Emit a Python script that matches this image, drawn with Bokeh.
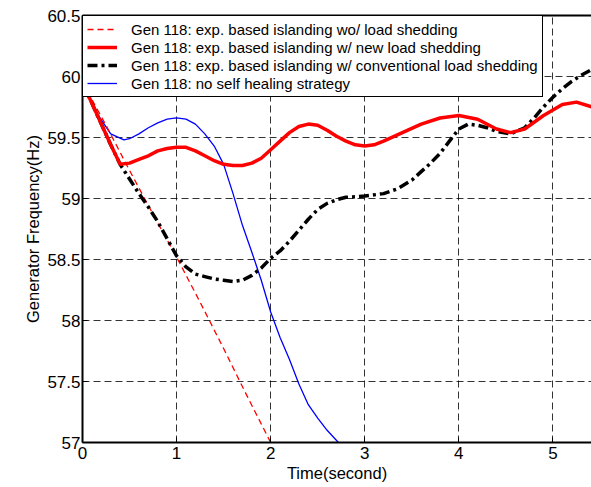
from bokeh.plotting import figure
from bokeh.models import (Range1d, LinearAxis, FixedTicker, Legend, LegendItem,
                          CustomJSTickFormatter)
from bokeh.embed import file_html
from bokeh.resources import INLINE

# ---- data ----
t_wo = [0.0, 0.25, 0.5, 0.75, 1.0, 1.25, 1.5, 1.75, 2.0]
f_wo = [59.95, 59.60, 59.23, 58.87, 58.52, 58.15, 57.77, 57.38, 57.0]

t_new = [0.0, 0.1, 0.2, 0.3, 0.4, 0.5, 0.6, 0.7, 0.8, 0.9, 1.0, 1.1, 1.2, 1.3,
         1.4, 1.5, 1.6, 1.7, 1.8, 1.9, 2.0, 2.1, 2.2, 2.3, 2.4, 2.5, 2.6, 2.7,
         2.8, 2.9, 3.0, 3.1, 3.2, 3.4, 3.6, 3.8, 4.0, 4.2, 4.4, 4.55, 4.7, 4.9,
         5.1, 5.25, 5.42]
f_new = [59.95, 59.78, 59.61, 59.44, 59.28, 59.29, 59.32, 59.35, 59.39, 59.41,
         59.42, 59.42, 59.39, 59.35, 59.31, 59.28, 59.27, 59.27, 59.29, 59.33,
         59.40, 59.47, 59.54, 59.59, 59.61, 59.60, 59.56, 59.51, 59.47, 59.44,
         59.43, 59.44, 59.47, 59.54, 59.61, 59.66, 59.68, 59.65, 59.57, 59.54,
         59.57, 59.68, 59.77, 59.79, 59.75]

t_conv = [0.0, 0.1, 0.2, 0.3, 0.4, 0.5, 0.6, 0.7, 0.8, 0.9, 1.0, 1.1, 1.2, 1.3,
          1.4, 1.5, 1.6, 1.7, 1.8, 1.9, 2.0, 2.1, 2.2, 2.3, 2.4, 2.5, 2.6, 2.7,
          2.8, 3.0, 3.2, 3.35, 3.5, 3.6, 3.7, 3.8, 3.9, 4.0, 4.1, 4.2, 4.3, 4.4,
          4.55, 4.7, 4.8, 4.9, 5.0, 5.1, 5.2, 5.3, 5.42]
f_conv = [59.95, 59.78, 59.61, 59.44, 59.28, 59.16, 59.04, 58.93, 58.81, 58.67,
          58.53, 58.44, 58.38, 58.36, 58.34, 58.33, 58.32, 58.33, 58.37, 58.43,
          58.51, 58.57, 58.65, 58.74, 58.83, 58.91, 58.96, 58.99, 59.01, 59.02,
          59.04, 59.08, 59.15, 59.22, 59.29, 59.37, 59.47, 59.57, 59.61, 59.60,
          59.58, 59.55, 59.53, 59.58, 59.66, 59.75, 59.83, 59.90, 59.96, 60.01,
          60.06]

t_none = [0.0, 0.1, 0.17, 0.3, 0.44, 0.5, 0.6, 0.7, 0.8, 0.9, 1.0, 1.1, 1.2,
          1.3, 1.4, 1.5, 1.6, 1.7, 1.8, 1.9, 2.0, 2.1, 2.2, 2.3, 2.4, 2.5, 2.6,
          2.72]
f_none = [59.95, 59.78, 59.68, 59.53, 59.48, 59.49, 59.53, 59.58, 59.62, 59.65,
          59.66, 59.65, 59.61, 59.53, 59.43, 59.28, 59.04, 58.78, 58.56, 58.33,
          58.07, 57.86, 57.68, 57.48, 57.31, 57.20, 57.10, 57.0]

x_ticks = [0, 1, 2, 3, 4, 5]
y_ticks = [57, 57.5, 58, 58.5, 59, 59.5, 60, 60.5]

labels = ["Gen 118: exp. based islanding wo/ load shedding",
          "Gen 118: exp. based islanding w/ new load shedding",
          "Gen 118: exp. based islanding w/ conventional load shedding",
          "Gen 118: no self healing strategy"]

FONT = "Liberation Sans"

p = figure(width=591, height=487, x_range=Range1d(0, 5.41),
           y_range=Range1d(57, 60.5), output_backend="svg",
           toolbar_location=None, min_border_left=82, min_border_top=15,
           min_border_right=0, min_border_bottom=45,
           x_axis_label="Time(second)",
           y_axis_label="Generator Frequency(Hz)")
p.outline_line_color = None
p.background_fill_color = "white"

for ax in (p.xaxis[0], p.yaxis[0]):
    ax.axis_line_width = 2
    ax.axis_line_color = "black"
    ax.major_tick_in = 5
    ax.major_tick_out = 0
    ax.major_tick_line_color = "black"
    ax.minor_tick_line_color = None
    ax.major_label_text_font = FONT
    ax.major_label_text_font_size = "17px"
    ax.major_label_text_color = "black"
    ax.axis_label_text_font = FONT
    ax.axis_label_text_font_size = "16.5px"
    ax.axis_label_text_font_style = "normal"
    ax.axis_label_text_color = "black"
    ax.axis_label_standoff = 2
p.xaxis.major_label_standoff = 4
p.yaxis.major_label_standoff = 2

p.xaxis.ticker = FixedTicker(ticks=x_ticks)
p.yaxis.ticker = FixedTicker(ticks=y_ticks)
p.yaxis.formatter = CustomJSTickFormatter(code="return tick.toString();")

top = LinearAxis(ticker=FixedTicker(ticks=[]), axis_line_width=2,
                 axis_line_color="black", major_tick_in=0, major_tick_out=0,
                 minor_tick_in=0, minor_tick_out=0,
                 major_label_text_font_size="0px", major_label_standoff=0)
p.add_layout(top, "above")

for g in (p.xgrid[0], p.ygrid[0]):
    g.grid_line_color = "black"
    g.grid_line_alpha = 0.8
    g.grid_line_dash = "7 4"
    g.grid_line_width = 1
p.xgrid.ticker = FixedTicker(ticks=x_ticks)
p.ygrid.ticker = FixedTicker(ticks=y_ticks)

r_none = p.line(t_none, f_none, line_color="#0000ff", line_width=1.3)
r_wo = p.line(t_wo, f_wo, line_color="#ff0000", line_width=1.3,
              line_dash="6 4")
r_conv = p.line(t_conv, f_conv, line_color="black", line_width=3.5,
                line_dash="10 4 3 4")
r_new = p.line(t_new, f_new, line_color="#ff0000", line_width=3.5)

legend = Legend(items=[LegendItem(label=labels[0], renderers=[r_wo]),
                       LegendItem(label=labels[1], renderers=[r_new]),
                       LegendItem(label=labels[2], renderers=[r_conv]),
                       LegendItem(label=labels[3], renderers=[r_none])],
                location="top_left", margin=0, padding=4, spacing=0,
                glyph_width=30, glyph_height=18, label_height=18,
                label_standoff=14, label_text_font=FONT,
                label_text_font_size="15px", label_text_color="black",
                border_line_color="black", border_line_width=1,
                border_line_alpha=1, background_fill_color="white",
                background_fill_alpha=1)
p.add_layout(legend)

open("out.html", "w").write(file_html(p, INLINE))
